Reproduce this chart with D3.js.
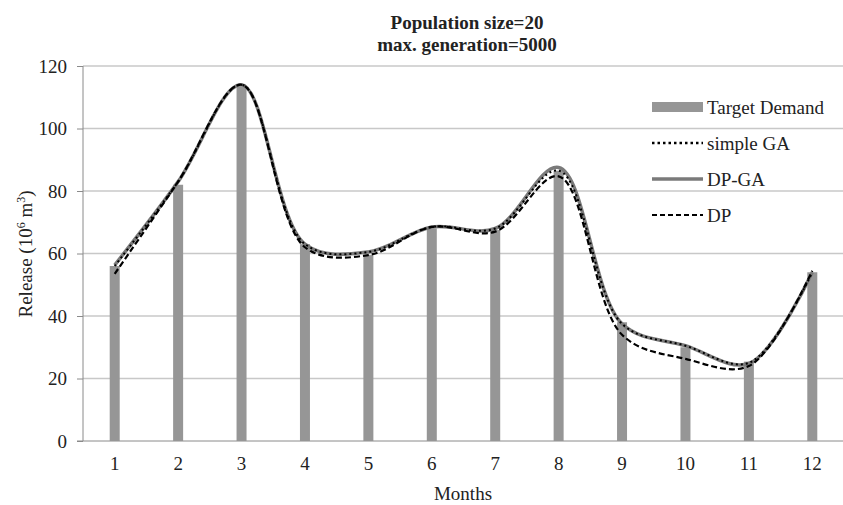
<!DOCTYPE html>
<html>
<head>
<meta charset="utf-8">
<script src="https://cdn.jsdelivr.net/npm/d3@7"></script>
<style>
  body { margin: 0; background: #fff; }
  text { font-family: "Liberation Serif", "Times New Roman", serif; fill: #222; }
</style>
</head>
<body>
<div class="chart"></div>
<script>
var months = [1, 2, 3, 4, 5, 6, 7, 8, 9, 10, 11, 12];
var targetDemand = [56, 82, 113.5, 63, 59.5, 68, 67.5, 86.5, 38, 30, 25.4, 54];
var simpleGA = [56, 83, 114, 63, 60.5, 68.5, 68, 86.5, 37.5, 30.5, 25, 54];
var dpGA = [56.3, 83, 114, 63, 60.5, 68.5, 68, 87.5, 37.5, 30.5, 24.8, 54];
var dp = [53.5, 83, 114, 62, 59.5, 68.5, 67, 84.7, 34, 26.3, 24, 54.5];
var yTicks = [0, 20, 40, 60, 80, 100, 120];

var margin = {top: 66, right: 0, bottom: 64, left: 83},
    width = 843 - margin.left - margin.right,
    height = 505 - margin.top - margin.bottom;

var svg = d3.select(".chart").append("svg")
    .attr("width", 843).attr("height", 505);
var g = svg.append("g")
    .attr("transform", "translate(" + margin.left + "," + margin.top + ")");

var x = d3.scaleBand().domain(months).range([0, width + 1]);
var y = d3.scaleLinear().domain([0, 120]).range([height, 0]);
var cx = function(m) { return x(m) + x.bandwidth() / 2; };

// gridlines
g.append("g").selectAll("line").data(yTicks.slice(1)).enter().append("line")
    .attr("x1", 0).attr("x2", width)
    .attr("y1", function(d) { return y(d); }).attr("y2", function(d) { return y(d); })
    .attr("stroke", "#c8c8c8").attr("stroke-width", 1.3);

// y axis
var yAxis = d3.axisLeft(y).tickValues(yTicks).tickSize(6).tickPadding(10);
var ya = g.append("g").call(yAxis);
ya.select(".domain").attr("stroke", "#8a8a8a").attr("d", "M0," + height + "V0");
ya.selectAll(".tick line").attr("stroke", "#8a8a8a");
ya.selectAll("text").style("font-size", "19px").attr("fill", "#222");

// x axis
var xAxis = d3.axisBottom(x).tickSize(0).tickPadding(16);
var xa = g.append("g").attr("transform", "translate(0," + height + ")").call(xAxis);
xa.select(".domain").attr("stroke", "#8a8a8a").attr("d", "M-6,0H" + width);
xa.selectAll("text").style("font-size", "19px").attr("fill", "#222");

// bars
g.append("g").selectAll("rect").data(targetDemand).enter().append("rect")
    .attr("x", function(d, i) { return cx(months[i]) - 5; })
    .attr("width", 10)
    .attr("y", function(d) { return y(d); })
    .attr("height", function(d) { return height - y(d); })
    .attr("fill", "#969696");

var line = d3.line()
    .x(function(d, i) { return cx(months[i]); })
    .y(function(d) { return y(d); })
    .curve(d3.curveCatmullRom.alpha(0.5));

g.append("path").attr("d", line(dpGA))
    .attr("fill", "none").attr("stroke", "#7a7a7a").attr("stroke-width", 3.5);
g.append("path").attr("d", line(dp))
    .attr("fill", "none").attr("stroke", "#000").attr("stroke-width", 2.2)
    .attr("stroke-dasharray", "6,3");
g.append("path").attr("d", line(simpleGA))
    .attr("fill", "none").attr("stroke", "#000").attr("stroke-width", 2)
    .attr("stroke-dasharray", "2,3");

// legend
var legendItems = [
  {name: "Target Demand", type: "bar"},
  {name: "simple GA", type: "dot"},
  {name: "DP-GA", type: "solid"},
  {name: "DP", type: "dash"}
];
var lg = svg.append("g").attr("transform", "translate(652,107)");
var item = lg.selectAll("g").data(legendItems).enter().append("g")
    .attr("transform", function(d, i) { return "translate(0," + (i * 36) + ")"; });
item.each(function(d) {
  var s = d3.select(this);
  if (d.type === "bar") {
    s.append("rect").attr("x", 0).attr("y", -5).attr("width", 51).attr("height", 10).attr("fill", "#969696");
  } else {
    var l = s.append("line").attr("x1", 0).attr("x2", 51).attr("y1", 0).attr("y2", 0);
    if (d.type === "dot") l.attr("stroke", "#000").attr("stroke-width", 2.5).attr("stroke-dasharray", "2.5,3");
    if (d.type === "solid") l.attr("stroke", "#7a7a7a").attr("stroke-width", 3.5);
    if (d.type === "dash") l.attr("stroke", "#000").attr("stroke-width", 2.2).attr("stroke-dasharray", "5,3");
  }
});
item.append("text").attr("x", 55).attr("y", 7).style("font-size", "19px").text(function(d) { return d.name; });

// titles
svg.append("text").attr("x", 467).attr("y", 29).attr("text-anchor", "middle")
    .style("font-size", "19px").style("font-weight", "bold").text("Population size=20");
svg.append("text").attr("x", 467).attr("y", 51).attr("text-anchor", "middle")
    .style("font-size", "19px").style("font-weight", "bold").text("max. generation=5000");

svg.append("text").attr("x", 463).attr("y", 500).attr("text-anchor", "middle")
    .style("font-size", "19px").text("Months");

var yl = svg.append("text").attr("transform", "translate(32,254) rotate(-90)")
    .attr("text-anchor", "middle").style("font-size", "19px");
yl.append("tspan").text("Release (10");
yl.append("tspan").attr("dy", -7).style("font-size", "12px").text("6");
yl.append("tspan").attr("dy", 7).text(" m");
yl.append("tspan").attr("dy", -7).style("font-size", "12px").text("3");
yl.append("tspan").attr("dy", 7).text(")");
</script>
</body>
</html>
